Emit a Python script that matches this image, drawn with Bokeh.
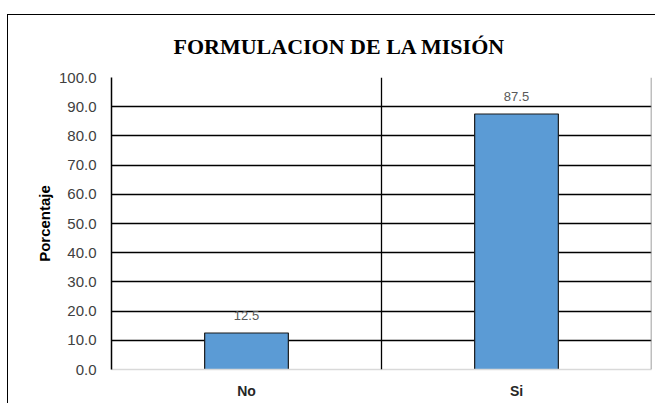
from bokeh.plotting import figure
from bokeh.models import (FactorRange, Range1d, ColumnDataSource, LabelSet, Span,
                          FixedTicker, NumeralTickFormatter, Title)
from bokeh.core.properties import value
from bokeh.embed import file_html
from bokeh.resources import INLINE

categories = ["No", "Si"]
values = [12.5, 87.5]
value_labels = ["12.5", "87.5"]
y_ticks = [0, 10, 20, 30, 40, 50, 60, 70, 80, 90, 100]
title_text = "FORMULACION DE LA MISIÓN"
y_title = "Porcentaje"

src = ColumnDataSource(dict(cat=categories, val=values, lab=value_labels))

p = figure(width=648, height=392,
           x_range=FactorRange(*categories, range_padding=0),
           y_range=Range1d(0, 100),
           output_backend="svg", toolbar_location=None,
           min_border_left=103, min_border_right=5,
           min_border_top=62, min_border_bottom=38)
p.styles = {"border-left": "1px solid #000000", "border-top": "1px solid #000000",
            "margin-top": "14px", "margin-left": "7px", "margin-bottom": "-20px"}

p.title = Title(text=title_text, align="left", vertical_align="top", offset=62,
                standoff=34, text_font="Liberation Serif", text_font_size="22px",
                text_font_style="bold", text_color="#000000")
p.outline_line_color = None
p.background_fill_color = "white"
p.border_fill_color = "white"

p.vbar(x="cat", top="val", width=0.31, source=src,
       fill_color="#5B9BD5", line_color="#1a1a1a", line_width=1.2)

labels = LabelSet(x="cat", y="val", text="lab", source=src, y_offset=18,
                  text_align="center", text_baseline="middle",
                  text_font=value("Liberation Sans"), text_font_size=value("13px"),
                  text_color="#595959")
p.add_layout(labels)

# grid
p.xgrid.visible = False
p.ygrid.ticker = FixedTicker(ticks=y_ticks[1:])
p.ygrid.grid_line_color = "#000000"
p.ygrid.grid_line_width = 1.3
p.add_layout(Span(location=1, dimension="height", line_color="#000000", line_width=1.3))
p.add_layout(Span(location=2, dimension="height", line_color="#7f7f7f", line_width=1.5))

# y axis
p.yaxis.ticker = FixedTicker(ticks=y_ticks)
p.yaxis.formatter = NumeralTickFormatter(format="0.0")
p.yaxis.axis_label = y_title
p.yaxis.axis_label_text_font = "Liberation Sans"
p.yaxis.axis_label_text_font_size = "15px"
p.yaxis.axis_label_text_font_style = "bold"
p.yaxis.axis_label_text_color = "#000000"
p.yaxis.axis_label_standoff = 3
p.yaxis.major_label_text_font = "Liberation Sans"
p.yaxis.major_label_text_font_size = "15px"
p.yaxis.major_label_text_color = "#404040"
p.yaxis.major_label_standoff = 15
p.yaxis.major_tick_out = 0
p.yaxis.major_tick_in = 0
p.yaxis.minor_tick_out = 0
p.yaxis.minor_tick_in = 0
p.yaxis.axis_line_color = "#000000"
p.yaxis.axis_line_width = 1.5

# x axis
p.xaxis.major_label_text_font = "Liberation Sans"
p.xaxis.major_label_text_font_size = "14px"
p.xaxis.major_label_text_font_style = "bold"
p.xaxis.major_label_text_color = "#262626"
p.xaxis.major_label_standoff = 13
p.xaxis.major_tick_out = 0
p.xaxis.major_tick_in = 0
p.xaxis.axis_line_color = "#d9d9d9"
p.xaxis.axis_line_width = 1.5

open("out.html", "w").write(file_html(p, INLINE))
